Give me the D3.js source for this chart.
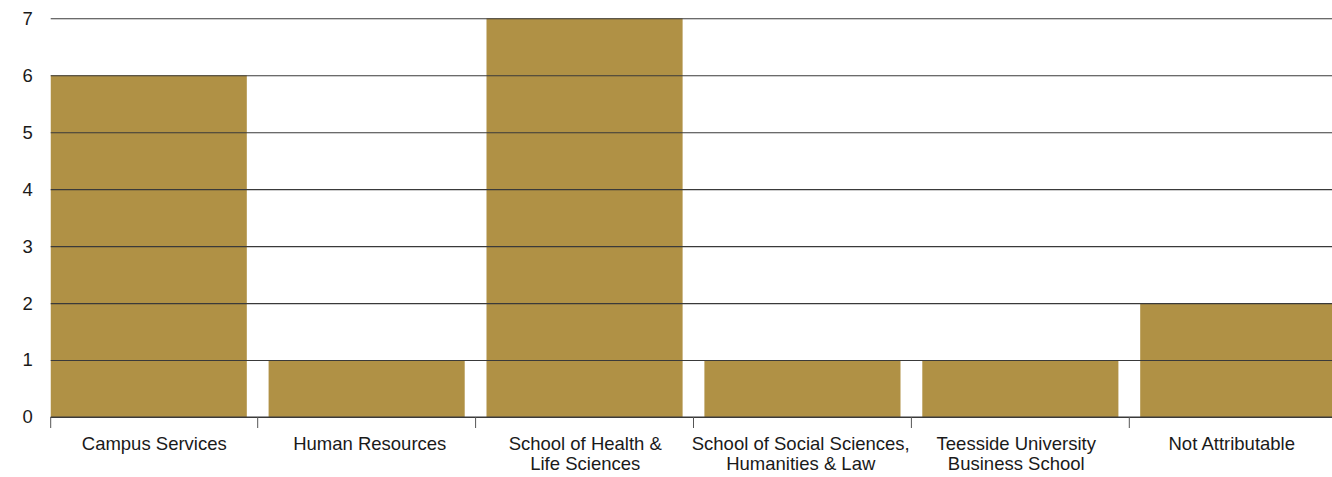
<!DOCTYPE html>
<html>
<head>
<meta charset="utf-8">
<script src="https://cdn.jsdelivr.net/npm/d3@7"></script>
<style>
  html, body { margin: 0; padding: 0; background: #fff; }
  svg { display: block; }
  text { font-family: Helvetica, Arial, "Liberation Sans", sans-serif; fill: #1a1a1a; }
</style>
</head>
<body>
<svg id="chart" width="1332" height="477"></svg>
<script>
// Reported cases by area
const categories = [
  "Campus Services",
  "Human Resources",
  "School of Health &\nLife Sciences",
  "School of Social Sciences,\nHumanities & Law",
  "Teesside University\nBusiness School",
  "Not Attributable"
];
const values = [6, 1, 7, 1, 1, 2];
const yTicks = [0, 1, 2, 3, 4, 5, 6, 7];

const W = 1332, H = 477;
const plotLeft = 50.7, plotRight = 1332;
const yBottom = 417, yTop = 18.3;

const svg = d3.select("#chart");

// Bands extend slightly past the plot on both sides; the plot clips them
const x = d3.scaleBand()
  .domain(categories)
  .range([39.8, 1347.2])
  .paddingInner(0.1)
  .paddingOuter(0.05);

// Category labels are spread evenly under the visible plot width
const xLabel = d3.scaleBand()
  .domain(categories)
  .range([46.5, 1339.5]);

const y = d3.scaleLinear().domain([0, 7]).range([yBottom, yTop]);

svg.append("defs").append("clipPath").attr("id", "plot-clip")
  .append("rect")
  .attr("x", plotLeft - 0.5).attr("y", 0)
  .attr("width", plotRight - plotLeft + 0.5).attr("height", H);

// Bars
svg.append("g").attr("clip-path", "url(#plot-clip)")
  .selectAll("rect")
  .data(categories.map((c, i) => ({ c, v: values[i] })))
  .join("rect")
  .attr("x", d => x(d.c))
  .attr("y", d => y(d.v))
  .attr("width", x.bandwidth())
  .attr("height", d => y(0) - y(d.v))
  .attr("fill", "#B09145");

// Horizontal gridlines with value labels, drawn over the bars
const yAxis = svg.append("g")
  .attr("transform", `translate(${plotLeft},0)`)
  .call(d3.axisLeft(y)
    .tickValues(yTicks)
    .tickFormat(d3.format("d"))
    .tickSize(-(plotRight - plotLeft))
    .tickPadding(18));
yAxis.select(".domain").remove();
yAxis.selectAll(".tick line")
  .attr("stroke", "#3a3a3a")
  .attr("stroke-width", 1.1);
yAxis.selectAll(".tick text")
  .attr("font-size", 18.5)
  .attr("fill", "#1a1a1a");

// Category axis: baseline, boundary ticks and wrapped labels
const step = x.step();
const gx = svg.append("g");
gx.append("line")
  .attr("x1", plotLeft).attr("x2", plotRight)
  .attr("y1", yBottom).attr("y2", yBottom)
  .attr("stroke", "#3a3a3a").attr("stroke-width", 1.2);

const boundaries = [plotLeft].concat(
  categories.slice(1).map(c => x(c) - step * x.paddingInner() / 2)
);
gx.selectAll("line.tick")
  .data(boundaries)
  .join("line")
  .attr("class", "tick")
  .attr("x1", d => d).attr("x2", d => d)
  .attr("y1", yBottom).attr("y2", yBottom + 11)
  .attr("stroke", "#555").attr("stroke-width", 1);

gx.selectAll("text.cat")
  .data(categories)
  .join("text")
  .attr("class", "cat")
  .attr("text-anchor", "middle")
  .attr("font-size", 18.5)
  .attr("y", 449.5)
  .each(function (d) {
    const t = d3.select(this);
    const cx = xLabel(d) + xLabel.bandwidth() / 2;
    d.split("\n").forEach((line, i) => {
      t.append("tspan")
        .attr("x", cx)
        .attr("dy", i === 0 ? 0 : 20)
        .text(line);
    });
  });
</script>
</body>
</html>
